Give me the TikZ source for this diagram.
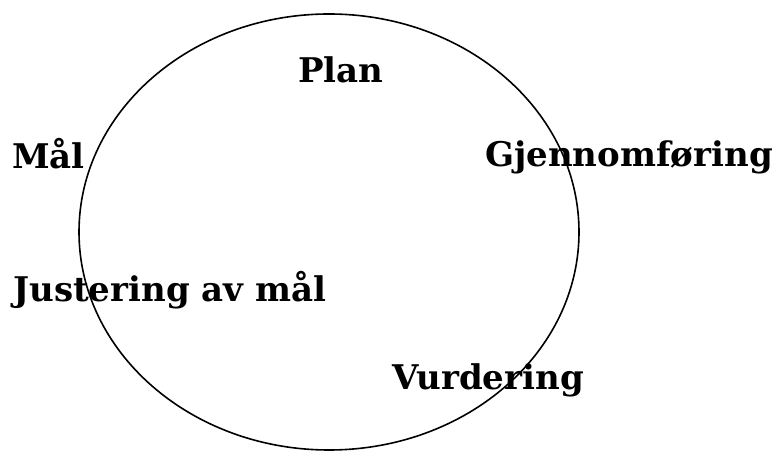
\documentclass[tikz,border=0pt]{standalone}
\usepackage{fontspec}
\setmainfont{DejaVu Serif}
\tikzset{
  lbl/.style={anchor=base west, inner sep=0pt, font=\fontsize{34}{41}\selectfont\bfseries}
}
\begin{document}
\begin{tikzpicture}[x=1pt,y=1pt]
      \useasboundingbox (0,0) rectangle (777,452);
      \draw[line width=1.6pt] (329,220) ellipse (250 and 218);
      \draw
        (298,369) node[lbl] (plan){Plan}
        (12,283) node[lbl] (maal){Mål}
        (485,285) node[lbl] (gjennomforing){Gjennomføring}
        (13,150) node[lbl] (justering){Justering av mål}
        (392,62) node[lbl] (vurdering){Vurdering};
    \end{tikzpicture}
\end{document}
